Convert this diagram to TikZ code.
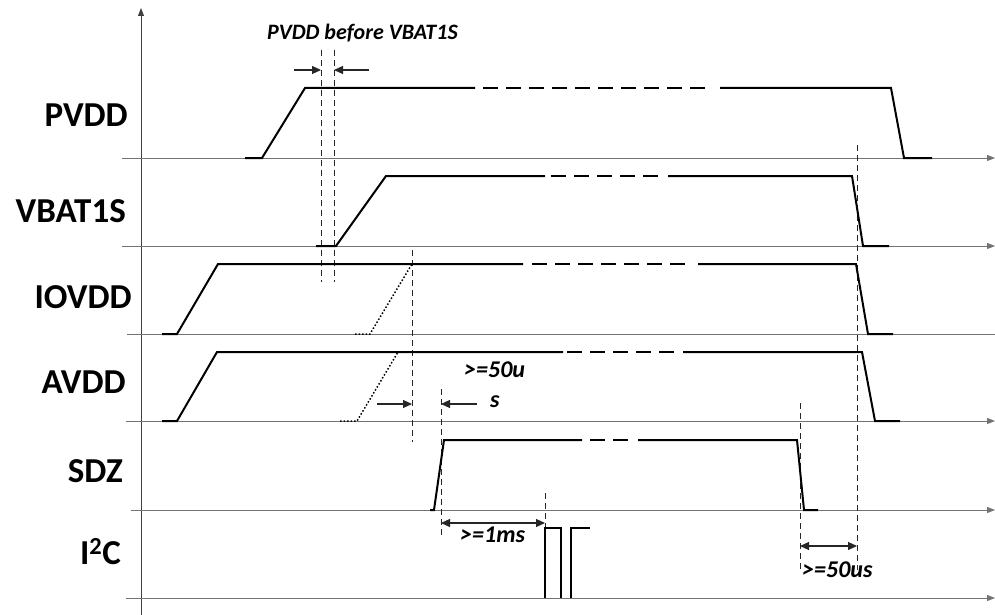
\documentclass[tikz,border=0pt]{standalone}
\usepackage{fontspec}
\setmainfont{Carlito}
\usetikzlibrary{arrows.meta}
\begin{document}
\begin{tikzpicture}[x=1pt,y=-1pt,
  axisline/.style={draw=black!55, line width=0.9pt},
  sig/.style={draw=black, line width=2pt, line join=miter},
  sigdash/.style={sig, dash pattern=on 15pt off 8pt},
  thinsig/.style={draw=black, line width=1.5pt},
  guide/.style={draw=black!85, line width=0.8pt, dash pattern=on 6pt off 4pt},
  dotsig/.style={draw=black, line width=1.5pt, dash pattern=on 1.5pt off 2pt},
  meas/.style={draw=black!85, line width=1.1pt, -{Triangle[length=9pt,width=8pt]}},
  dmeas/.style={draw=black!85, line width=1.1pt, {Triangle[length=9pt,width=8pt]}-{Triangle[length=9pt,width=8pt]}},
  lab/.style={font=\fontsize{35}{37}\selectfont\bfseries, anchor=base east, inner sep=0pt},
  note/.style={font=\fontsize{22}{24}\selectfont\bfseries\itshape, anchor=base west, inner sep=0pt},
  bignote/.style={note, font=\fontsize{24}{26}\selectfont\bfseries\itshape}]

\path[fill=white,use as bounding box] (0,0) rectangle (995,615);

% vertical axis
\coordinate (ybot) at (141,615);
\coordinate (ytop) at (141,8);
\draw[draw=black!75, line width=0.9pt, -{Triangle[length=8pt,width=6pt]}] (ybot) -- (ytop);

% baselines
\coordinate (b1s) at (122,158); \coordinate (b1e) at (995,158);
\coordinate (b2s) at (122,246); \coordinate (b2e) at (995,246);
\coordinate (b3s) at (127,334); \coordinate (b3e) at (995,334);
\coordinate (b4s) at (126,421); \coordinate (b4e) at (995,421);
\coordinate (b5s) at (131,510); \coordinate (b5e) at (995,510);
\coordinate (b6s) at (126,598); \coordinate (b6e) at (995,598);
\draw[axisline, -{Triangle[length=8pt,width=6pt]}] (b1s) -- (b1e);
\draw[axisline, -{Triangle[length=8pt,width=6pt]}] (b2s) -- (b2e);
\draw[axisline] (b3s) -- (b3e);
\draw[axisline, -{Triangle[length=8pt,width=6pt]}] (b4s) -- (b4e);
\draw[axisline, -{Triangle[length=8pt,width=6pt]}] (b5s) -- (b5e);
\draw[axisline, -{Triangle[length=8pt,width=6pt]}] (b6s) -- (b6e);

% labels
\node[lab] (lpvdd) at (128,126) {PVDD};
\node[lab] (lvbat) at (126,222) {VBAT1S};
\node[lab] (liovdd) at (132,308) {IOVDD};
\node[lab] (lavdd) at (126,393) {AVDD};
\node[lab] (lsdz) at (123,482) {SDZ};
\node[lab] (li2c) at (121,564) {I\textsuperscript{2}C};

% guide lines
\draw[guide] (321,50) -- (321,282);
\draw[guide] (334,50) -- (334,282);
\draw[guide] (412,250) -- (412,442);
\draw[guide] (441,389) -- (441,537);
\draw[guide] (545,493) -- (545,528);
\draw[guide] (800,403) -- (800,570);
\draw[guide] (857,145) -- (857,570);

% PVDD
\draw[sig] (245,158) -- (262,158) -- (305,88) -- (475,88);
\draw[sigdash] (483,88) -- (712,88);
\draw[sig] (720,88) -- (891,88) -- (904,158) -- (932,158);
% VBAT1S
\draw[sig] (316,246) -- (336,246) -- (386,176) -- (545,176);
\draw[sigdash] (551,176) -- (662,176);
\draw[sig] (668,176) -- (852,176) -- (863,246) -- (889,246);
% IOVDD
\draw[sig] (162,334) -- (177,334) -- (218,264) -- (523,264);
\draw[sigdash] (532,264) -- (692,264);
\draw[sig] (698,264) -- (856,264) -- (868,334) -- (893,334);
\draw[dotsig] (355,334) -- (370,334) -- (412,264);
% AVDD
\draw[sig] (162,421) -- (177,421) -- (217,352) -- (563,352);
\draw[sigdash] (567,352) -- (677,352);
\draw[sig] (683,352) -- (862,352) -- (875,421) -- (900,421);
\draw[dotsig] (340,421) -- (357,421) -- (398,352);
% SDZ
\draw[sig] (430,510) -- (434,510) -- (444,440) -- (582,440);
\draw[sigdash] (590,440) -- (630,440);
\draw[sig] (638,440) -- (797,440) -- (804,510) -- (818,510);
% I2C
\draw[thinsig] (545,598) -- (545,528) -- (561,528) -- (561,598);
\draw[thinsig] (571,598) -- (571,528) -- (590,528);

% measurement arrows
\coordinate (m1a) at (294,70); \coordinate (m1b) at (321,70);
\coordinate (m2a) at (369,70); \coordinate (m2b) at (334,70);
\draw[meas] (m1a) -- (m1b);
\draw[meas] (m2a) -- (m2b);
\coordinate (m3a) at (377,404); \coordinate (m3b) at (412,404);
\coordinate (m4a) at (477,404); \coordinate (m4b) at (441,404);
\draw[meas] (m3a) -- (m3b);
\draw[meas] (m4a) -- (m4b);
\coordinate (m5a) at (441,523); \coordinate (m5b) at (545,523);
\draw[dmeas] (m5a) -- (m5b);
\coordinate (m6a) at (800,546); \coordinate (m6b) at (857,546);
\draw[dmeas] (m6a) -- (m6b);

% notes
\node[note] (n1) at (267,40) {PVDD before VBAT1S};
\node[bignote] (n2) at (464,377) {>=50u};
\node[bignote] (n3) at (490,407) {s};
\node[bignote] (n4) at (460,542) {>=1ms};
\node[bignote] (n5) at (802,577) {>=50us};
\end{tikzpicture}
\end{document}
